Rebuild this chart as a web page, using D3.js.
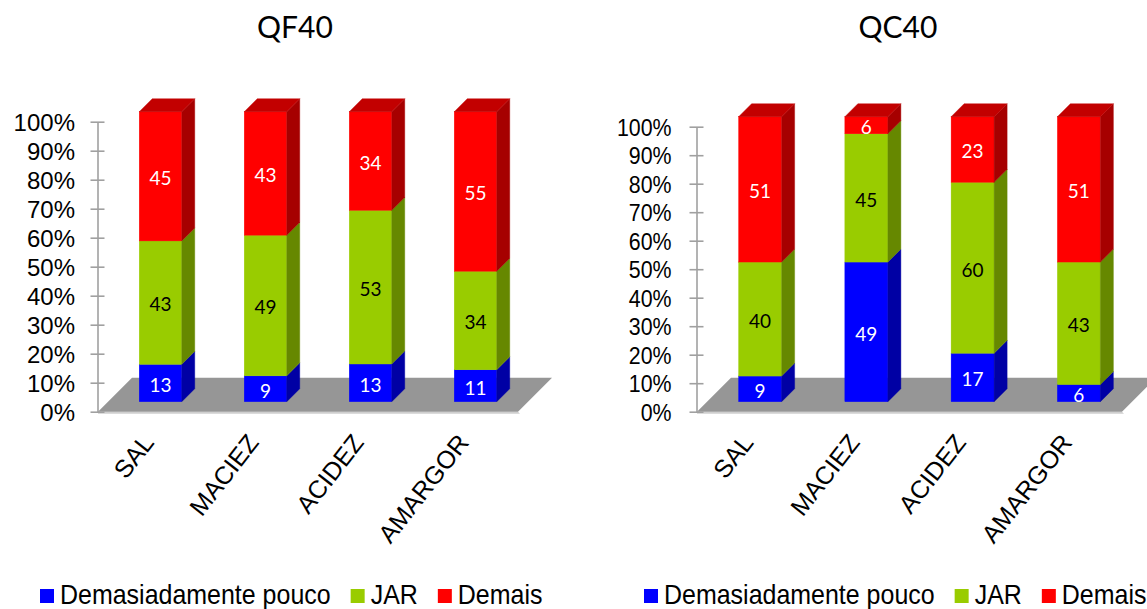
<!DOCTYPE html>
<html>
<head>
<meta charset="utf-8">
<script src="https://cdn.jsdelivr.net/npm/d3@7"></script>
<style>
  html, body { margin: 0; padding: 0; background: #ffffff; }
  svg { display: block; }
</style>
</head>
<body>
<svg id="chart" width="1147" height="609"></svg>
<script>
// ---- data ----
const categories = ["SAL", "MACIEZ", "ACIDEZ", "AMARGOR"];
const seriesNames = ["Demasiadamente pouco", "JAR", "Demais"];
const titles = ["QF40", "QC40"];

const qf40Pouco  = [13, 9, 13, 11];
const qf40Jar    = [43, 49, 53, 34];
const qf40Demais = [45, 43, 34, 55];

const qc40Pouco  = [9, 49, 17, 6];
const qc40Jar    = [40, 45, 60, 43];
const qc40Demais = [51, 6, 23, 51];

const percentTicks = [0, 10, 20, 30, 40, 50, 60, 70, 80, 90, 100];

// ---- styling ----
const frontColors = ["#0000FF", "#99CC00", "#FF0000"];
const sideColors  = ["#0000A4", "#668800", "#A60000"];
const topColors   = ["#0000C8", "#7FA600", "#C20000"];
const valueColors = ["#FFFFFF", "#000000", "#FFFFFF"];

const DEPTH_FRONT = 10;   // depth of the bar front faces
const DEPTH_BAR = 13;     // thickness of each bar
const DEPTH_FLOOR = 34;   // depth of the floor
const proj = (x, y, d) => [x + d, y - d];

const svg = d3.select("#chart");

const charts = [
  { title: titles[0], series: [qf40Pouco, qf40Jar, qf40Demais],
    x0: 98, x1: 518, yBase: 411.7, yTop: 121.7, titleX: 295, legendX: 40,
    tickScale: 1, tickGap: 22.5 },
  { title: titles[1], series: [qc40Pouco, qc40Jar, qc40Demais],
    x0: 697, x1: 1122, yBase: 411.7, yTop: 126.7, titleX: 898, legendX: 644,
    tickScale: 0.89, tickGap: 25 }
];

function drawChart(cfg) {
  const g = svg.append("g");

  const x = d3.scaleBand().domain(categories).range([cfg.x0, cfg.x1]).padding(0);
  const y = d3.scaleLinear().domain([0, 100]).range([cfg.yBase, cfg.yTop]);

  const rows = categories.map((c, i) => ({
    cat: c, s0: cfg.series[0][i], s1: cfg.series[1][i], s2: cfg.series[2][i]
  }));
  const layers = d3.stack().keys(["s0", "s1", "s2"]).offset(d3.stackOffsetExpand)(rows);

  // title
  g.append("text")
    .attr("x", cfg.titleX).attr("y", 37.5)
    .attr("text-anchor", "middle")
    .style("font-family", "Lato, 'Open Sans', sans-serif")
    .style("font-size", "30px")
    .style("fill", "#000")
    .text(cfg.title);

  // floor
  const floorPts = [proj(cfg.x0, cfg.yBase, 0), proj(cfg.x1, cfg.yBase, 0),
                    proj(cfg.x1, cfg.yBase, DEPTH_FLOOR), proj(cfg.x0, cfg.yBase, DEPTH_FLOOR)];
  g.append("polygon")
    .attr("points", [[cfg.x0, cfg.yBase], [cfg.x1, cfg.yBase], [cfg.x1 + 2, cfg.yBase + 2], [cfg.x0, cfg.yBase + 2]].join(" "))
    .attr("fill", "#cfcfcf");
  g.append("polygon")
    .attr("points", floorPts.join(" "))
    .attr("fill", "#969696");

  // value axis
  const axis = d3.axisLeft(y)
    .tickValues(percentTicks)
    .tickFormat(d => d + "%")
    .tickSize(7)
    .tickSizeOuter(0);
  const ax = g.append("g")
    .attr("transform", `translate(${cfg.x0 - 0.5},0)`)
    .call(axis);
  ax.select(".domain").attr("stroke", "#A0A0A0").attr("stroke-width", 1.6);
  ax.selectAll(".tick line")
    .attr("x1", 7).attr("x2", -7)
    .attr("stroke", "#A0A0A0").attr("stroke-width", 1.6);
  ax.selectAll(".tick text")
    .attr("x", -cfg.tickGap / cfg.tickScale)
    .attr("dy", "0.36em")
    .attr("transform", `scale(${cfg.tickScale},1)`)
    .style("font-family", "'Liberation Sans', Arial, sans-serif")
    .style("font-size", "24px")
    .style("fill", "#000");

  // bars
  const bw = x.bandwidth();
  const barW = bw * 0.405;
  layers.forEach((layer, k) => {
    layer.forEach((seg, i) => {
      const cat = categories[i];
      const xl = x(cat) + (bw - barW) / 2 + DEPTH_FRONT;
      const xr = xl + barW;
      const yb = y(seg[0] * 100) - DEPTH_FRONT;
      const yt = y(seg[1] * 100) - DEPTH_FRONT;
      const bar = g.append("g");
      bar.append("rect")
        .attr("x", xl).attr("y", yt)
        .attr("width", barW).attr("height", yb - yt)
        .attr("fill", frontColors[k])
        .attr("stroke", frontColors[k]).attr("stroke-width", 0.4);
      bar.append("polygon")
        .attr("points", [[xr, yt], [xr + DEPTH_BAR, yt - DEPTH_BAR], [xr + DEPTH_BAR, yb - DEPTH_BAR], [xr, yb]].join(" "))
        .attr("fill", sideColors[k])
        .attr("stroke", sideColors[k]).attr("stroke-width", 0.4);
      if (k === layers.length - 1) {
        bar.append("polygon")
          .attr("points", [[xl, yt], [xl + DEPTH_BAR, yt - DEPTH_BAR], [xr + DEPTH_BAR, yt - DEPTH_BAR], [xr, yt]].join(" "))
          .attr("fill", topColors[k])
          .attr("stroke", topColors[k]).attr("stroke-width", 0.4);
      }
    });
  });

  // value labels
  layers.forEach((layer, k) => {
    layer.forEach((seg, i) => {
      const cat = categories[i];
      const cx = x(cat) + bw / 2 + DEPTH_FRONT;
      const cy = y((seg[0] + seg[1]) / 2 * 100) - DEPTH_FRONT + 2;
      g.append("text")
        .attr("x", cx).attr("y", cy)
        .attr("dy", "0.36em")
        .attr("text-anchor", "middle")
        .style("font-family", "Lato, 'Open Sans', sans-serif")
        .style("font-size", "19px")
        .style("fill", valueColors[k])
        .text(cfg.series[k][i]);
    });
  });

  // slanted category labels
  categories.forEach(cat => {
    const lx = x(cat) + bw / 2 + 4.5;
    const ly = 443;
    g.append("text")
      .attr("transform", `translate(${lx},${ly}) rotate(-52)`)
      .attr("text-anchor", "end")
      .style("font-family", "'Liberation Sans', Arial, sans-serif")
      .style("font-size", "25px")
      .style("fill", "#000")
      .text(cat);
  });

  // legend
  const lg = g.append("g").attr("transform", `translate(${cfg.legendX},0)`);
  let cursor = 0;
  const sq = 14, legendScale = 0.925;
  seriesNames.forEach((name, k) => {
    lg.append("rect")
      .attr("x", cursor).attr("y", 589)
      .attr("width", sq).attr("height", sq)
      .attr("fill", frontColors[k]);
    const item = lg.append("g").attr("transform", `translate(${cursor + sq + 6},604) scale(${legendScale},1)`);
    const t = item.append("text")
      .style("font-family", "'Liberation Sans', Arial, sans-serif")
      .style("font-size", "27px")
      .style("fill", "#000")
      .text(name);
    const w = t.node().getComputedTextLength() * legendScale;
    cursor += sq + 6 + w + 20;
  });
}

charts.forEach(drawChart);
</script>
</body>
</html>
